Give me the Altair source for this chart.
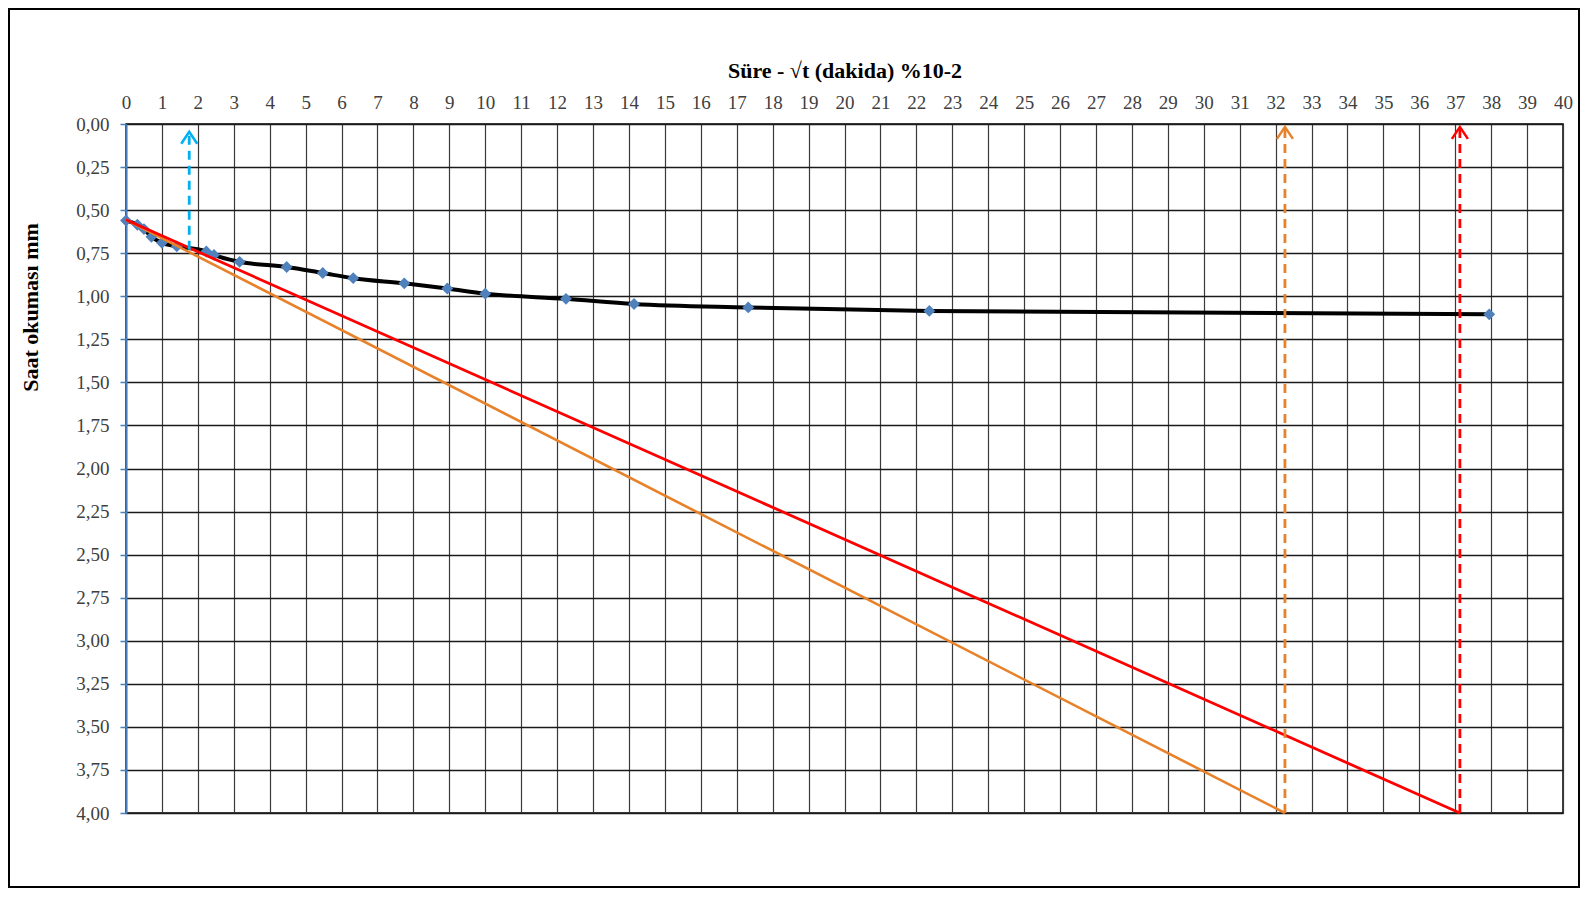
import altair as alt
import pandas as pd

# --- data ---
sqrt_t = [0.0, 0.316, 0.5, 0.707, 1.0, 1.414, 2.236, 2.449, 3.162, 4.472, 5.477,
          6.325, 7.746, 8.944, 10.0, 12.247, 14.142, 17.321, 22.361, 37.947]
okuma = [0.56, 0.585, 0.61, 0.655, 0.69, 0.71, 0.74, 0.76, 0.80, 0.83, 0.865,
         0.895, 0.925, 0.955, 0.985, 1.015, 1.045, 1.065, 1.085, 1.105]

tangent_x = [0.0, 32.26]
tangent_y = [0.556, 4.0]
tangent115_x = [0.0, 37.13]
tangent115_y = [0.556, 4.0]

marker_x = [1.76, 32.26, 37.13]
marker_from = [0.73, 4.0, 4.0]
marker_to = [0.045, 0.017, 0.017]
marker_color = ["#00B0F0", "#E8822A", "#FF0000"]

x_ticks = list(range(0, 41))
y_ticks = [i * 0.25 for i in range(17)]

x_title = "Süre - √t (dakida) %10-2"
y_title = "Saat okuması mm"

FONT = "Liberation Serif"

df_curve = pd.DataFrame({"t": sqrt_t, "d": okuma})
df_orange = pd.DataFrame({"t": tangent_x, "d": tangent_y})
df_red = pd.DataFrame({"t": tangent115_x, "d": tangent115_y})
df_rules = pd.DataFrame({"t": marker_x, "d": marker_from, "d2": marker_to, "c": marker_color})
df_tips = pd.DataFrame({"t": marker_x, "d": marker_to, "c": marker_color})

x_scale = alt.Scale(domain=[0, 40], nice=False, zero=False)
y_scale = alt.Scale(domain=[0, 4], reverse=True, nice=False, zero=False)

x_axis = alt.Axis(
    orient="top", values=x_ticks, title=x_title, grid=True, ticks=False, domain=False,
    labelFont=FONT, labelFontSize=19, labelColor="#404040", labelPadding=12,
    labelFlush=False, labelOverlap=False,
    titleFont=FONT, titleFontSize=22, titleFontWeight="bold", titleColor="black",
    titlePadding=11, gridColor="#3a3a3a", gridWidth=1.2, gridOpacity=1,
)
y_axis = alt.Axis(
    orient="left", values=y_ticks, title=y_title, grid=True,
    labelExpr="replace(format(datum.value, '.2f'), '.', ',')",
    labelFont=FONT, labelFontSize=19, labelColor="#404040", labelPadding=11,
    labelOverlap=False, labelFlush=False,
    domainColor="#4A7EBB", domainWidth=2, tickColor="#4A7EBB", tickWidth=1.5, tickSize=6,
    titleFont=FONT, titleFontSize=22, titleFontWeight="bold", titleColor="black",
    titleX=-96, titleY=183, titleAngle=270, titleAlign="center", titleBaseline="middle",
    gridColor="#1a1a1a", gridWidth=1.4, gridOpacity=1,
)

X = alt.X("t:Q", scale=x_scale, axis=x_axis)
Y = alt.Y("d:Q", scale=y_scale, axis=y_axis)

curve = alt.Chart(df_curve).mark_line(color="black", strokeWidth=4, interpolate="monotone").encode(x=X, y=Y)
pts = alt.Chart(df_curve).mark_point(shape="diamond", filled=True, color="#4F81BD", size=140, opacity=1).encode(x=X, y=Y)
orange = alt.Chart(df_orange).mark_line(color="#E8822A", strokeWidth=2.6).encode(x=X, y=Y)
red = alt.Chart(df_red).mark_line(color="#FF0000", strokeWidth=2.8).encode(x=X, y=Y)
rules = alt.Chart(df_rules).mark_rule(strokeWidth=2.8, strokeDash=[9, 6]).encode(
    x=X, y=Y, y2="d2:Q", color=alt.Color("c:N", scale=None))
tips = alt.Chart(df_tips).mark_point(shape="M-1,1.5L0,0L1,1.5", filled=False, size=256,
                                     strokeWidth=2.5, opacity=1).encode(
    x=X, y=Y, color=alt.Color("c:N", scale=None))

frame = alt.Chart(pd.DataFrame({"a": [0]})).mark_rect(
    fillOpacity=0, stroke="black", strokeWidth=2).encode(
    x=alt.value(-117), x2=alt.value(1453), y=alt.value(-115), y2=alt.value(763))

chart = alt.layer(curve, pts, orange, red, rules, tips, frame).properties(
    width=1437, height=689,
    autosize=alt.AutoSizeParams(type="none"),
    padding={"left": 118, "top": 116, "right": 17, "bottom": 75},
    background="white",
).configure_view(stroke="black", strokeWidth=1.5)

chart.save("out.html", embed_options={"renderer": "svg", "actions": False})
